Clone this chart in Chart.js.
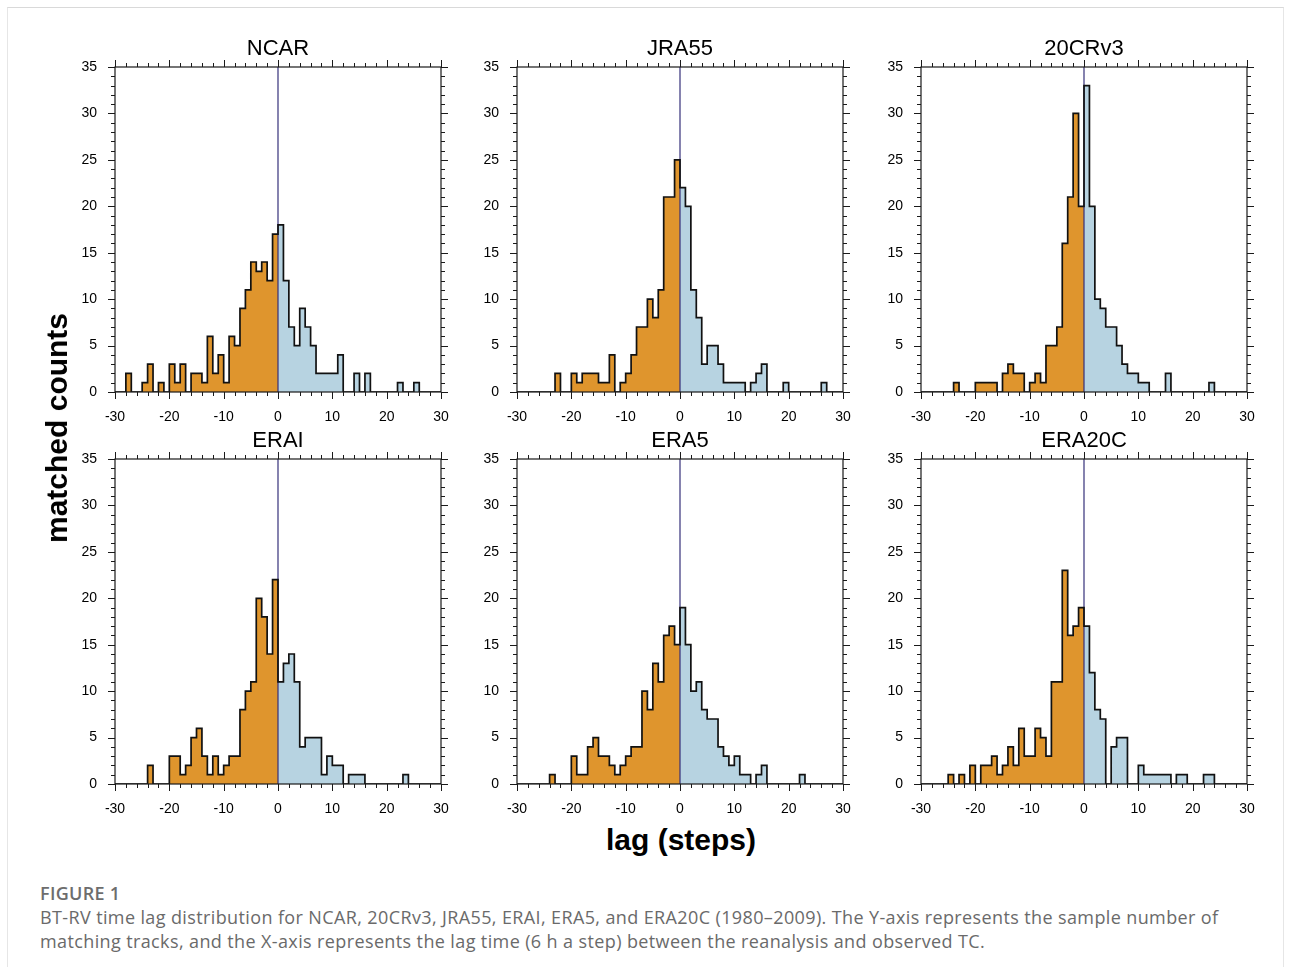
<!DOCTYPE html>
<html>
<head>
<meta charset="utf-8">
<script src="https://cdn.jsdelivr.net/npm/chart.js@4.4.1/dist/chart.umd.min.js"></script>
<style>
  html, body { margin:0; padding:0; background:#fff; }
  body { width:1291px; height:974px; position:relative; overflow:hidden; font-family:"Liberation Sans", Arial, sans-serif; }
  canvas.panel { position:absolute; }
  #frame { position:absolute; left:7px; top:7px; width:1277px; height:960px; border-top:1px solid #d9d9d9; border-left:1px solid #e6e6e6; border-right:1px solid #e6e6e6; box-sizing:border-box; }
  #ytitle { position:absolute; left:57px; top:428px; transform:translate(-50%,-50%) rotate(-90deg); font:bold 30px "Liberation Sans", Arial, sans-serif; white-space:nowrap; color:#000; }
  #xtitle { position:absolute; left:681px; top:840px; transform:translate(-50%,-50%); font:bold 30px "Liberation Sans", Arial, sans-serif; white-space:nowrap; color:#000; }
  #figlabel { position:absolute; left:40px; top:880px; font:600 18px "Open Sans", "Noto Sans", sans-serif; color:#6d6d6d; letter-spacing:0.3px; line-height:26px; }
  #caption { position:absolute; left:40px; top:905px; font:400 18px "Open Sans", "Noto Sans", sans-serif; color:#6a6a6a; line-height:24px; white-space:nowrap; letter-spacing:0.38px; }
</style>
</head>
<body>
<div id="frame"></div>
<canvas id="c0" class="panel"></canvas>
<canvas id="c1" class="panel"></canvas>
<canvas id="c2" class="panel"></canvas>
<canvas id="c3" class="panel"></canvas>
<canvas id="c4" class="panel"></canvas>
<canvas id="c5" class="panel"></canvas>
<div id="ytitle">matched counts</div>
<div id="xtitle">lag (steps)</div>
<div id="figlabel">FIGURE 1</div>
<div id="caption">BT-RV time lag distribution for NCAR, 20CRv3, JRA55, ERAI, ERA5, and ERA20C (1980–2009). The Y-axis represents the sample number of<br>matching tracks, and the X-axis represents the lag time (6 h a step) between the reanalysis and observed TC.</div>
<script>
// ---- data (bin left edges, in lag steps) ----
const lagBins = [-30,-29,-28,-27,-26,-25,-24,-23,-22,-21,-20,-19,-18,-17,-16,-15,-14,-13,-12,-11,
                 -10,-9,-8,-7,-6,-5,-4,-3,-2,-1,0,1,2,3,4,5,6,7,8,9,
                 10,11,12,13,14,15,16,17,18,19,20,21,22,23,24,25,26,27,28,29];
const panelTitles = ['NCAR','JRA55','20CRv3','ERAI','ERA5','ERA20C'];
const xTickLabels = ['-30','-20','-10','0','10','20','30'];
const yTickLabels = ['0','5','10','15','20','25','30','35'];

const ncar   = [0,0,2,0,0,1,3,0,1,0, 3,1,3,0,2,2,1,6,2,4, 1,6,5,9,11,14,13,14,12,17,
                18,12,7,5,9,7,5,2,2,2, 2,4,0,0,2,0,2,0,0,0, 0,0,1,0,0,1,0,0,0,0];
const jra55  = [0,0,0,0,0,0,0,2,0,0, 2,1,2,2,2,1,1,4,0,1, 2,4,7,7,10,8,11,21,21,25,
                22,20,11,8,3,5,5,3,1,1, 1,1,0,1,2,3,0,0,0,1, 0,0,0,0,0,0,1,0,0,0];
const c20crv3= [0,0,0,0,0,0,1,0,0,0, 1,1,1,1,0,2,3,2,2,0, 1,2,1,5,5,7,16,21,30,20,
                33,20,10,9,7,7,5,3,2,2, 1,1,0,0,0,2,0,0,0,0, 0,0,0,1,0,0,0,0,0,0];
const erai   = [0,0,0,0,0,0,2,0,0,0, 3,3,1,2,5,6,3,1,3,1, 2,3,3,8,10,11,20,18,14,22,
                11,13,14,11,4,5,5,5,1,3, 2,2,0,1,1,1,0,0,0,0, 0,0,0,1,0,0,0,0,0,0];
const era5   = [0,0,0,0,0,0,1,0,0,0, 3,1,1,4,5,3,3,2,1,2, 3,4,4,10,8,13,11,16,17,15,
                19,15,10,11,8,7,7,4,3,2, 3,1,1,0,1,2,0,0,0,0, 0,0,1,0,0,0,0,0,0,0];
const era20c = [0,0,0,0,0,1,0,1,0,2, 0,2,2,3,1,2,4,2,6,3, 3,6,5,3,11,11,23,16,17,19,
                17,12,8,7,0,4,5,5,0,0, 2,1,1,1,1,1,0,1,1,0, 0,0,1,1,0,0,0,0,0,0];
const panelSeries = [ncar, jra55, c20crv3, erai, era5, era20c];

// ---- layout ----
const plotLefts = [115, 517, 921];
const plotTops  = [67, 459];
const PW = 326, PH = 325;
const YW = 75, TH = 40, XH = 38, PR = 40;

const ORANGE = '#df952d';
const BLUE = '#b7d3e1';
const NAVY = '#34307a';

const frameTicks = {
  id: 'frameTicks',
  afterDatasetsDraw(chart) {
    const {ctx, chartArea: a, scales} = chart;
    const x = scales.x, y = scales.y;
    ctx.save();
    ctx.strokeStyle = '#1a1a1a';
    ctx.lineWidth = 1.2;
    ctx.strokeRect(a.left, a.top, a.right - a.left, a.bottom - a.top);
    ctx.lineWidth = 1;
    ctx.beginPath();
    for (let v = x.min; v <= x.max; v += 2) {
      const px = Math.round(x.getPixelForValue(v)) + 0.5;
      const L = (v % 10 === 0) ? 7 : 4;
      ctx.moveTo(px, a.bottom); ctx.lineTo(px, a.bottom + L);
      ctx.moveTo(px, a.top); ctx.lineTo(px, a.top - L);
    }
    for (let v = y.min; v <= y.max; v += 1) {
      const py = Math.round(y.getPixelForValue(v)) + 0.5;
      const L = (v % 5 === 0) ? 7 : 4;
      ctx.moveTo(a.left, py); ctx.lineTo(a.left - L, py);
      ctx.moveTo(a.right, py); ctx.lineTo(a.right + L, py);
    }
    ctx.stroke();
    ctx.restore();
  }
};

function makePanel(idx) {
  const col = idx % 3, row = Math.floor(idx / 3);
  const cv = document.getElementById('c' + idx);
  const W = YW + PW + PR, H = TH + PH + XH;
  cv.width = W; cv.height = H;
  cv.style.left = (plotLefts[col] - YW) + 'px';
  cv.style.top = (plotTops[row] - TH) + 'px';
  cv.style.width = W + 'px'; cv.style.height = H + 'px';

  const vals = panelSeries[idx];
  const neg = [], pos = [], all = [];
  lagBins.forEach((b, i) => {
    all.push({x: b, y: vals[i]});
    if (b < 0) neg.push({x: b, y: vals[i]});
    else pos.push({x: b, y: vals[i]});
  });
  neg.push({x: 0, y: 0});
  const last = lagBins[lagBins.length - 1] + 1;
  pos.push({x: last, y: 0});
  all.push({x: last, y: 0});

  new Chart(cv, {
    type: 'line',
    data: {
      datasets: [
        { data: all, stepped: 'before', borderColor: '#111', borderWidth: 1.7, fill: false, pointRadius: 0, order: 0 },
        { data: [{x: 0, y: 0}, {x: 0, y: 35}], borderColor: NAVY, borderWidth: 1.2, fill: false, pointRadius: 0, order: 1 },
        { data: neg, stepped: 'before', borderWidth: 0, borderColor: 'rgba(0,0,0,0)', backgroundColor: ORANGE, fill: 'origin', pointRadius: 0, order: 2 },
        { data: pos, stepped: 'before', borderWidth: 0, borderColor: 'rgba(0,0,0,0)', backgroundColor: BLUE, fill: 'origin', pointRadius: 0, order: 3 }
      ]
    },
    options: {
      responsive: false,
      animation: false,
      events: [],
      layout: { padding: { left: 0, right: PR, top: 0, bottom: 0 } },
      plugins: {
        legend: { display: false },
        tooltip: { enabled: false },
        title: {
          display: true,
          fullSize: false,
          text: panelTitles[idx],
          color: '#000',
          font: { family: '"Liberation Sans", Arial, sans-serif', size: 22, weight: 'normal', lineHeight: 1 },
          padding: { top: 11, bottom: 7 }
        }
      },
      scales: {
        x: {
          type: 'linear', min: -30, max: 30,
          grid: { display: false, drawTicks: false },
          border: { display: false },
          ticks: {
            stepSize: 10, padding: 17, color: '#000', maxRotation: 0, autoSkip: false,
            font: { family: '"Liberation Sans", Arial, sans-serif', size: 14 },
            callback: (v) => { const s = String(v); return xTickLabels.includes(s) ? s : ''; }
          },
          afterFit: (s) => { s.height = XH; }
        },
        y: {
          type: 'linear', min: 0, max: 35,
          grid: { display: false, drawTicks: false },
          border: { display: false },
          ticks: {
            stepSize: 5, padding: 18, color: '#000',
            font: { family: '"Liberation Sans", Arial, sans-serif', size: 14 },
            callback: (v) => { const s = String(v); return yTickLabels.includes(s) ? s : ''; }
          },
          afterFit: (s) => { s.width = YW; }
        }
      }
    },
    plugins: [frameTicks]
  });
}
for (let i = 0; i < 6; i++) makePanel(i);
</script>
</body>
</html>
